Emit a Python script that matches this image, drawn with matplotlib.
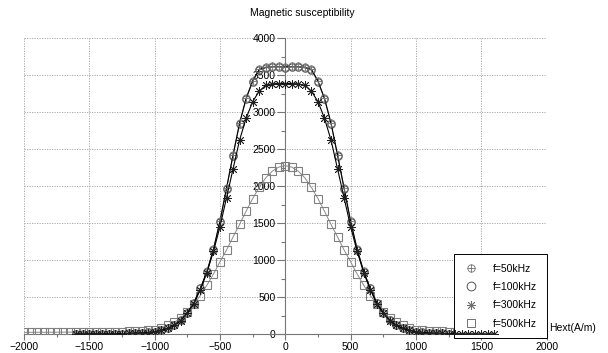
import numpy as np
import matplotlib
matplotlib.use("Agg")
import matplotlib.pyplot as plt
from matplotlib.lines import Line2D
from matplotlib.ticker import MultipleLocator

plt.rcParams['font.family'] = ['Liberation Sans', 'DejaVu Sans']
plt.rcParams['font.size'] = 7.5

# field values (A/m)
h_wide = np.arange(-2000, 2001, 50)
h_narrow = np.arange(-1600, 1601, 50)

chi_50k = [2, 2, 2, 3, 3, 4, 5, 6, 8, 11, 15, 22, 33, 51, 79, 121, 187, 287, 422, 618,
           845, 1145, 1525, 1972, 2420, 2850, 3185, 3420, 3575, 3605, 3615, 3615,
           3610,
           3615, 3615, 3605, 3575, 3420, 3185, 2850, 2420, 1972, 1525, 1145, 845,
           618, 422, 287, 187, 121, 79, 51, 33, 22, 15, 11, 8, 6, 5, 4, 3, 3, 2, 2, 2]

chi_100k = [2, 2, 2, 3, 3, 4, 5, 6, 8, 11, 15, 22, 32, 50, 78, 120, 185, 285, 420, 615,
            840, 1140, 1520, 1965, 2410, 2840, 3175, 3410, 3565, 3595, 3605, 3605,
            3600,
            3605, 3605, 3595, 3565, 3410, 3175, 2840, 2410, 1965, 1520, 1140, 840,
            615, 420, 285, 185, 120, 78, 50, 32, 22, 15, 11, 8, 6, 5, 4, 3, 3, 2, 2, 2]

chi_300k = [1, 2, 2, 2, 3, 3, 4, 5, 7, 10, 14, 20, 30, 48, 75, 115, 180, 280, 410, 600,
            830, 1115, 1450, 1840, 2230, 2620, 2915, 3140, 3280, 3360, 3380, 3385,
            3385,
            3385, 3380, 3360, 3280, 3140, 2915, 2620, 2230, 1840, 1450, 1115, 830,
            600, 410, 280, 180, 115, 75, 48, 30, 20, 14, 10, 7, 5, 4, 3, 3, 2, 2, 2, 1]

chi_500k = [22, 23, 23, 23, 24, 24, 25, 25, 26, 26, 27, 28, 29, 30, 31, 33, 35, 38, 42,
            48, 58, 80, 115, 160, 210, 295, 410, 520, 660, 810, 975, 1135, 1310, 1480,
            1660, 1830, 1980, 2110, 2200, 2255,
            2275,
            2255, 2200, 2110, 1980, 1830, 1660, 1480, 1310, 1135, 975, 810, 660, 520,
            410, 295, 210, 160, 115, 80, 58, 48, 42, 38, 35, 33, 31, 30, 29, 28, 27,
            26, 26, 25, 25, 24, 24, 23, 23, 23, 22]

labels = ['f=50kHz', 'f=100kHz', 'f=300kHz', 'f=500kHz']

fig = plt.figure(figsize=(6.08, 3.53), dpi=100)
ax = fig.add_axes([24/608, 1-334/353, (546.6-24)/608, (334-38)/353])

ms = 5.3
# 500 kHz
ax.plot(h_wide, chi_500k, color='#8a8a8a', lw=0.7, marker='s', ms=ms,
        mfc='none', mec='#808080', mew=0.8, zorder=3)
# 100 kHz
ax.plot(h_narrow, chi_100k, color='#6a6a6a', lw=0.7, marker='o', ms=ms,
        mfc='none', mec='#555555', mew=0.8, zorder=4)
# 50 kHz (circle with cross)
ax.plot(h_narrow, chi_50k, color='black', lw=0.8, marker='o', ms=ms,
        mfc='none', mec='#707070', mew=0.6, zorder=5)
ax.plot(h_narrow, chi_50k, ls='none', marker='+', ms=ms+1, mec='#707070',
        mew=0.6, zorder=5)
# 300 kHz
ax.plot(h_narrow, chi_300k, color='black', lw=0.8, marker=(8, 2, 0), ms=ms+1,
        mec='#202020', mew=0.6, zorder=6)

ax.set_xlim(-2000, 2000)
ax.set_ylim(0, 4000)

ax.spines['left'].set_position(('data', 0))
ax.spines['top'].set_visible(False)
ax.spines['right'].set_visible(False)
for s in ['left', 'bottom']:
    ax.spines[s].set_color('#777777')
    ax.spines[s].set_linewidth(0.8)

ax.xaxis.set_major_locator(MultipleLocator(500))
ax.xaxis.set_minor_locator(MultipleLocator(250))
ax.yaxis.set_major_locator(MultipleLocator(500))
ax.yaxis.set_minor_locator(MultipleLocator(250))
ax.tick_params(which='both', width=0.8, color='#777777', direction='out')
ax.tick_params(axis='y', which='major', length=6, pad=1)
ax.tick_params(axis='y', which='minor', length=3)
ax.tick_params(axis='x', which='major', length=4, pad=1.5)
ax.tick_params(axis='x', which='minor', length=2.5)

ax.grid(True, which='major', color='#a0a0a0', ls=(0, (1.5, 1.5)), lw=0.6)
ax.set_axisbelow(True)

ax.text(1.004, 0.004, 'Hext(A/m)', transform=ax.transAxes, ha='left', va='bottom')
fig.text(0.497, 1-13/353, 'Magnetic susceptibility', ha='center', va='center')

h50 = (Line2D([], [], ls='none', marker='o', ms=ms, mfc='none', mec='#707070', mew=0.6),
       Line2D([], [], ls='none', marker='+', ms=ms+1, mec='#707070', mew=0.6))
h100 = Line2D([], [], ls='none', marker='o', ms=ms+1, mfc='none', mec='#555555', mew=0.7)
h300 = Line2D([], [], ls='none', marker=(8, 2, 0), ms=ms+1, mec='#707070', mew=0.6)
h500 = Line2D([], [], ls='none', marker='s', ms=ms+1, mfc='none', mec='#707070', mew=0.7)
leg = ax.legend([h50, h100, h300, h500], labels, loc='lower right',
                bbox_to_anchor=(1.0, -0.014), fancybox=False, framealpha=1,
                edgecolor='black', borderpad=0.9, labelspacing=0.8,
                handlelength=1.5, handletextpad=1.4, borderaxespad=0)
leg.get_frame().set_linewidth(0.7)

fig.savefig('out.png', dpi=100)
